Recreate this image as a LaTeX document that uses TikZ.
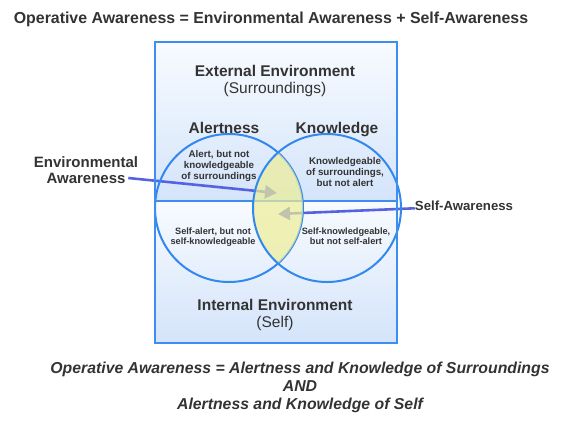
\documentclass[tikz,border=0pt]{standalone}
\usepackage{fontspec}
\setmainfont{Liberation Sans}
\usetikzlibrary{arrows.meta}
\definecolor{txtgray}{HTML}{333333}
\definecolor{boxblue}{HTML}{3D8EF0}
\definecolor{ringblue}{HTML}{3388EE}
\definecolor{arrblue}{HTML}{5563E0}
\definecolor{skytop}{HTML}{F8FBFF}
\definecolor{skybot}{HTML}{D4E4FA}
\definecolor{lensyel}{HTML}{EEEE96}

\begin{document}
\begin{tikzpicture}[x=1pt, y=-1pt,
  every node/.style={text=txtgray, inner sep=0pt},
  head/.style={anchor=base, font=\fontsize{15.5}{17}\selectfont\bfseries},
  sub/.style={anchor=base, font=\fontsize{15.5}{17}\selectfont},
  small/.style={align=center, font=\fontsize{9.8}{11}\selectfont\bfseries},
  smaller/.style={align=center, font=\fontsize{9.2}{10}\selectfont\bfseries},
  side/.style={align=center, font=\fontsize{15}{16}\selectfont\bfseries},
  formula/.style={anchor=base, font=\fontsize{15.8}{17}\selectfont\bfseries\itshape},
  arr/.style={-{Triangle[length=12pt, width=13pt]}, line width=2.6pt, arrblue},
  ring/.style={draw=ringblue, line width=2pt},
]
\useasboundingbox (0,0) rectangle (569,424);
% background of the two environments
\shade[top color=skytop, bottom color=skybot] (155,42) rectangle (397,201);
\shade[top color=skytop, bottom color=skybot] (155,201) rectangle (397,343);
\coordinate (lc) at (229,208);
\coordinate (rc) at (327,208);
\coordinate (envtip) at (277,193);
\coordinate (selftip) at (278,214);

\node[head, font=\fontsize{15.9}{17}\selectfont\bfseries] (title) at (271,23)
  {Operative Awareness = Environmental Awareness + Self-Awareness};
\node[side] (envaw) at (86,170) {Environmental\\[-0.5pt]Awareness};
\node[anchor=base, font=\fontsize{13.2}{15}\selectfont\bfseries] (selfaw) at (464,210) {Self-Awareness};

% connectors, under the lens
\draw[arr] ([shift={(-10,8)}]envaw.east) -- (envtip);
\draw[arr] ([yshift=-3]selfaw.west) -- (selftip);

\draw[ring] (lc) circle (74);
\draw[boxblue, line width=2pt] (155,201) -- (397,201);
\begin{scope}
  \clip (lc) circle (74);
  \fill[lensyel, opacity=0.7] (rc) circle (74);
\end{scope}
\draw[ring] (rc) circle (74);
\draw[boxblue, line width=2pt] (155,42) rectangle (397,343);

\node[head] (extenv) at (275,76) {External Environment};
\node[sub] (surr) at (275,93) {(Surroundings)};
\node[head] (alert) at (224,133) {Alertness};
\node[head] (know) at (337,133) {Knowledge};
\node[small] (alertonly) at (219,166) {Alert, but not\\knowledgeable\\of surroundings};
\node[small] (knowonly) at (345,172) {Knowledgeable\\of surroundings,\\but not alert};
\node[smaller] (selfalert) at (213,237) {Self-alert, but not\\self-knowledgeable};
\node[smaller] (selfknow) at (346,236) {Self-knowledgeable,\\but not self-alert};
\node[head] (intenv) at (275,310) {Internal Environment};
\node[sub] (self) at (275,327) {(Self)};

\node[formula] (line1) at (300,373) {Operative Awareness = Alertness and Knowledge of Surroundings};
\node[formula] (line2) at (300,391) {AND};
\node[formula] (line3) at (300,409) {Alertness and Knowledge of Self};
\end{tikzpicture}
\end{document}
